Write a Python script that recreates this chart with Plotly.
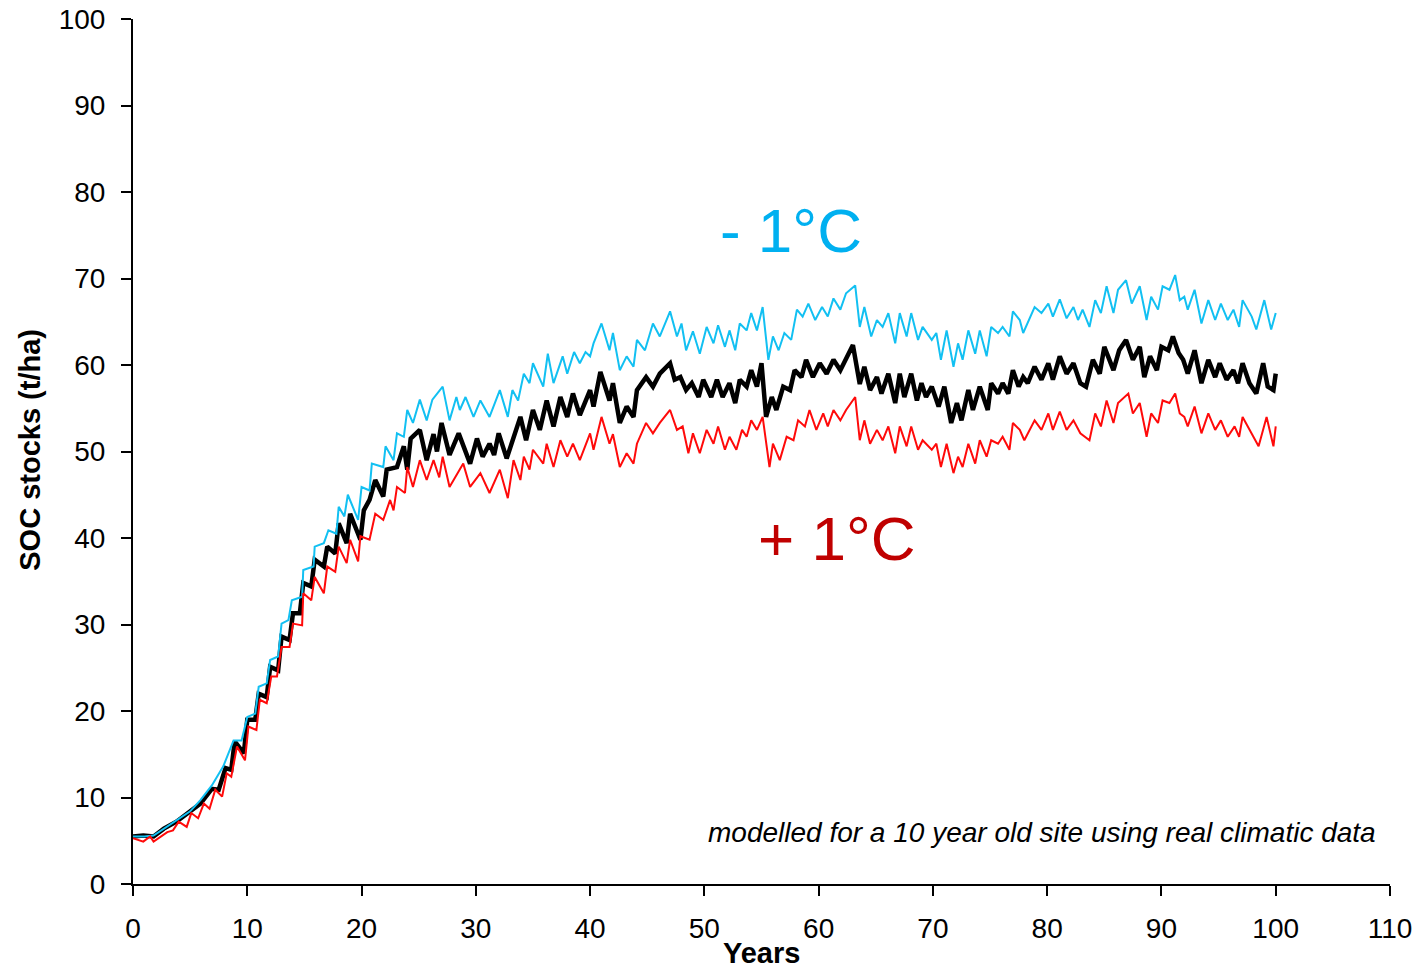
import plotly.graph_objects as go

# ---------------- data ----------------
base_years = [0, 0.9, 1.8, 2.7, 3.8, 4.8, 5.9, 6.9, 7.5, 8.1, 8.6, 8.9, 9.7, 10.0, 10.7, 11.0, 11.7, 12.0, 12.7,
              13.0, 13.7, 14.0, 14.6, 14.9, 15.6, 15.9, 16.7, 17.0, 17.7, 18.0, 18.7, 19.0, 19.9, 20.2, 20.7,
              21.2, 21.9, 22.2, 23.1, 23.7, 24.0, 24.3, 25.1, 25.7, 26.3, 26.6, 27.0, 27.7, 28.5, 29.5, 30.1,
              30.6, 31.2, 31.6, 32.0, 32.7, 33.9, 34.4, 35.0, 35.6, 36.2, 36.8, 37.4, 38.0, 38.5, 39.1, 40.0,
              40.3, 40.9, 41.7, 42.0, 42.6, 43.2, 43.8, 44.1, 44.9, 45.5, 46.1, 47.0, 47.4, 47.9, 48.4, 48.9,
              49.5, 49.9, 50.6, 51.1, 51.6, 52.2, 52.7, 53.1, 53.7, 54.1, 54.6, 55.0, 55.4, 55.9, 56.3, 56.9,
              57.5, 57.9, 58.5, 58.9, 59.5, 60.1, 60.7, 61.3, 61.9, 62.4, 63.0, 63.6, 64.0, 64.5, 65.1, 65.5,
              66.1, 66.7, 67.1, 67.5, 68.1, 68.6, 69.0, 69.4, 69.9, 70.5, 71.0, 71.6, 72.1, 72.5, 73.1, 73.5,
              74.1, 74.8, 75.1, 75.7, 76.1, 76.6, 77.0, 77.5, 77.9, 78.3, 78.9, 79.5, 80.1, 80.5, 81.1, 81.7,
              82.3, 82.9, 83.4, 84.0, 84.6, 85.0, 85.8, 86.3, 86.9, 87.5, 88.1, 88.5, 89.0, 89.6, 90.0, 90.6,
              91.0, 91.5, 91.9, 92.3, 92.9, 93.5, 94.1, 94.7, 95.1, 95.7, 96.3, 96.7, 97.1, 97.7, 98.3, 98.9,
              99.3, 99.8, 100.0]
base_soc = [5.5, 5.6, 5.5, 6.4, 7.2, 8.2, 9.3, 11.0, 10.9, 13.4, 13.2, 16.5, 15.1, 19.0, 19.0, 22.0, 21.6, 25.1, 24.7,
            28.6, 28.2, 31.3, 31.3, 34.8, 34.4, 37.5, 36.7, 39.0, 38.2, 41.7, 39.4, 42.8, 39.8, 43.2, 44.4,
            46.7, 44.8, 47.9, 48.2, 50.6, 47.9, 51.5, 52.5, 49.0, 52.0, 50.0, 53.3, 49.6, 52.1, 48.6, 51.5,
            49.4, 50.9, 49.6, 52.1, 49.2, 54.0, 51.3, 54.8, 52.5, 55.9, 52.9, 56.3, 54.0, 56.7, 54.2, 57.1,
            55.2, 59.2, 55.9, 57.9, 53.3, 55.2, 54.0, 57.1, 58.6, 57.5, 59.0, 60.2, 58.3, 58.6, 57.1, 57.9,
            56.3, 58.3, 56.3, 58.3, 56.3, 57.9, 55.6, 58.3, 57.5, 59.4, 57.5, 60.2, 54.0, 56.3, 54.8, 57.5,
            57.1, 59.4, 58.6, 60.6, 58.6, 60.2, 59.0, 60.6, 59.4, 60.6, 62.3, 57.8, 59.8, 57.1, 58.6, 56.7,
            59.0, 55.6, 59.0, 56.3, 59.0, 55.9, 57.9, 56.3, 57.5, 55.2, 57.5, 53.3, 55.6, 53.6, 57.1, 54.8,
            57.5, 54.8, 57.9, 56.7, 57.9, 56.7, 59.4, 57.5, 58.6, 57.9, 59.8, 58.3, 60.2, 58.3, 61.0, 59.0,
            60.2, 57.9, 57.5, 60.6, 59.0, 62.1, 59.4, 61.7, 62.9, 60.6, 62.1, 58.6, 61.0, 59.4, 62.1, 61.7,
            63.3, 61.4, 60.6, 59.0, 61.7, 57.9, 60.6, 58.6, 60.2, 58.3, 59.4, 57.9, 60.2, 57.9, 56.7, 60.2,
            57.5, 57.1, 59.0]

cool_years = [0, 1.0, 1.8, 2.7, 3.8, 5.0, 5.9, 6.9, 7.9, 8.8, 9.5, 10.0, 10.7, 11.0, 11.7, 12.0, 12.7, 13.0, 13.6,
              13.9, 14.8, 14.9, 15.8, 15.9, 16.7, 17.1, 17.8, 18.0, 18.5, 18.8, 19.7, 20.0, 20.7, 20.9, 21.9,
              22.1, 22.8, 23.1, 23.7, 24.0, 24.5, 25.1, 25.7, 26.2, 27.1, 27.7, 28.3, 28.6, 29.1, 29.8, 30.4,
              31.2, 32.1, 32.8, 33.2, 33.7, 34.2, 34.7, 35.0, 35.9, 36.3, 36.8, 37.6, 38.0, 38.6, 39.1, 39.6,
              40.0, 40.3, 41.0, 41.7, 42.0, 42.6, 43.2, 43.8, 44.1, 44.8, 45.5, 46.1, 47.0, 47.6, 48.0, 48.4,
              49.0, 49.6, 50.2, 50.8, 51.2, 51.8, 52.2, 52.7, 53.1, 53.7, 54.1, 54.6, 55.1, 55.6, 56.0, 56.5,
              57.0, 57.6, 58.1, 58.6, 59.1, 59.7, 60.3, 60.8, 61.3, 61.9, 62.4, 63.2, 63.6, 64.0, 64.6, 65.1,
              65.6, 66.1, 66.7, 67.1, 67.7, 68.1, 68.7, 69.1, 69.9, 70.3, 70.7, 71.2, 71.8, 72.2, 72.6, 73.1,
              73.7, 74.1, 74.7, 75.1, 75.7, 76.1, 76.7, 77.0, 77.6, 77.9, 78.9, 79.5, 80.1, 80.5, 81.1, 81.7,
              82.3, 82.7, 83.1, 83.7, 84.2, 84.7, 85.2, 85.8, 86.2, 86.9, 87.4, 88.1, 88.7, 89.1, 89.7, 90.1,
              90.7, 91.2, 91.6, 92.0, 92.3, 92.9, 93.5, 94.1, 94.7, 95.2, 95.8, 96.3, 96.8, 97.1, 97.9, 98.3,
              99.0, 99.6, 100.0]
cool_soc = [5.5, 5.5, 5.6, 6.4, 7.4, 8.4, 9.7, 11.4, 13.6, 16.6, 16.6, 19.3, 19.7, 22.8, 23.2, 25.9, 26.3, 30.1, 30.5,
            32.8, 33.2, 36.3, 36.7, 39.0, 39.4, 40.9, 40.5, 43.6, 42.5, 45.0, 42.1, 45.9, 45.5, 48.6, 48.2,
            50.6, 49.0, 52.1, 51.7, 54.8, 53.3, 56.0, 53.6, 56.0, 57.5, 53.6, 56.3, 54.8, 56.3, 54.0, 55.9,
            54.0, 57.1, 54.0, 57.1, 55.9, 59.0, 57.9, 60.2, 57.5, 61.3, 57.9, 61.0, 59.0, 61.5, 60.2, 61.5,
            61.0, 62.5, 64.8, 61.7, 63.7, 59.4, 61.0, 59.8, 62.9, 61.7, 64.8, 63.3, 66.2, 63.3, 64.8, 61.7,
            63.9, 61.3, 64.4, 62.5, 64.6, 62.1, 64.0, 61.7, 64.8, 64.0, 66.0, 64.0, 66.7, 60.6, 63.3, 61.7,
            63.7, 62.9, 66.4, 65.6, 67.1, 65.2, 66.7, 65.6, 67.7, 66.4, 68.3, 69.2, 64.4, 66.7, 63.3, 65.2,
            64.4, 66.0, 62.5, 66.0, 63.3, 66.0, 62.9, 64.4, 62.9, 63.7, 60.6, 64.0, 59.8, 62.5, 60.6, 64.0,
            61.3, 64.0, 61.0, 64.4, 63.7, 64.4, 63.3, 66.2, 65.2, 63.7, 66.7, 66.0, 67.1, 65.6, 67.6, 65.4,
            66.7, 65.2, 66.4, 64.4, 67.5, 66.0, 69.1, 66.0, 68.7, 69.8, 67.1, 69.1, 65.2, 67.9, 66.4, 69.1,
            68.7, 70.4, 67.5, 67.9, 66.4, 68.7, 64.8, 67.5, 65.2, 67.1, 65.2, 66.4, 64.4, 67.5, 65.6, 64.1,
            67.5, 64.1, 66.0]

warm_years = [0, 0.9, 1.5, 1.8, 3.0, 3.5, 4.0, 4.7, 5.1, 5.7, 6.2, 6.7, 7.2, 7.8, 8.2, 8.6, 9.1, 9.8, 10.1, 10.8,
              11.1, 11.7, 12.1, 12.6, 13.0, 13.7, 14.0, 14.8, 14.9, 15.6, 15.9, 16.7, 17.0, 17.7, 18.0, 18.7,
              19.0, 19.7, 19.9, 20.7, 21.2, 21.9, 22.5, 22.8, 23.1, 23.8, 24.0, 24.5, 25.1, 25.7, 26.3, 26.8,
              27.1, 27.7, 28.9, 29.5, 30.4, 31.2, 32.1, 32.8, 33.3, 33.9, 34.2, 34.7, 35.0, 35.9, 36.2, 36.8,
              37.4, 38.0, 38.5, 39.1, 40.0, 40.3, 41.0, 41.7, 42.0, 42.6, 43.2, 43.8, 44.1, 44.9, 45.5, 46.1,
              47.0, 47.6, 48.1, 48.6, 49.0, 49.6, 50.2, 50.8, 51.2, 51.8, 52.2, 52.8, 53.3, 53.7, 54.1, 54.6,
              55.1, 55.7, 56.0, 56.6, 57.2, 57.8, 58.2, 58.8, 59.2, 59.8, 60.4, 60.8, 61.3, 61.9, 62.4, 63.2,
              63.6, 64.0, 64.5, 65.1, 65.6, 66.1, 66.7, 67.1, 67.7, 68.1, 68.7, 69.1, 69.9, 70.3, 70.7, 71.2,
              71.8, 72.2, 72.6, 73.1, 73.7, 74.1, 74.7, 75.1, 75.7, 76.1, 76.7, 77.0, 77.6, 78.0, 78.9, 79.5,
              80.1, 80.5, 81.1, 81.7, 82.3, 82.9, 83.7, 84.2, 84.7, 85.2, 85.8, 86.2, 87.1, 87.5, 88.1, 88.7,
              89.1, 89.7, 90.1, 90.7, 91.2, 91.6, 92.0, 92.3, 92.9, 93.5, 94.1, 94.7, 95.2, 95.8, 96.4, 96.8,
              97.1, 97.9, 98.5, 99.2, 99.8, 100.0]
warm_soc = [5.3, 4.9, 5.5, 4.9, 6.0, 6.2, 7.2, 6.6, 8.2, 7.6, 9.3, 8.7, 10.9, 10.1, 12.8, 12.4, 15.9, 14.3, 18.2, 17.8,
            21.3, 20.9, 24.0, 24.0, 27.4, 27.4, 30.1, 29.9, 33.6, 32.8, 35.5, 33.6, 36.7, 36.1, 39.0, 37.1,
            39.8, 37.3, 40.2, 39.8, 42.8, 42.1, 44.4, 43.2, 45.9, 45.2, 48.2, 45.9, 49.0, 46.7, 49.0, 47.0,
            49.4, 45.9, 48.6, 45.9, 47.5, 45.2, 47.9, 44.6, 49.0, 46.7, 49.4, 47.9, 50.2, 48.6, 50.9, 48.2,
            51.3, 49.4, 50.9, 49.0, 52.1, 50.2, 54.0, 50.9, 52.0, 48.2, 49.8, 48.6, 50.9, 53.3, 52.1, 53.3,
            54.8, 52.5, 52.9, 49.8, 52.1, 49.8, 52.5, 50.9, 52.9, 50.2, 51.7, 50.2, 52.5, 51.7, 53.6, 52.5,
            54.0, 48.2, 50.9, 49.0, 51.7, 51.3, 53.6, 52.9, 54.8, 52.5, 54.4, 52.9, 54.8, 53.6, 54.8, 56.3,
            51.3, 53.6, 50.9, 52.5, 51.3, 52.9, 49.8, 52.9, 50.6, 52.9, 50.2, 51.3, 50.2, 50.9, 48.2, 50.9,
            47.5, 49.4, 48.2, 50.9, 48.6, 51.3, 49.4, 51.3, 50.9, 51.7, 50.2, 53.3, 52.5, 51.3, 53.6, 52.5,
            54.4, 52.5, 54.6, 52.5, 53.6, 52.1, 51.3, 54.4, 52.9, 55.9, 53.3, 55.6, 56.7, 54.4, 55.6, 51.7,
            54.4, 53.3, 55.9, 55.6, 56.7, 54.4, 54.0, 52.9, 55.2, 52.1, 54.4, 52.5, 53.6, 51.7, 52.9, 51.7,
            54.0, 52.1, 50.6, 54.0, 50.6, 52.9]

x_ticks = [0, 10, 20, 30, 40, 50, 60, 70, 80, 90, 100, 110]
y_ticks = [0, 10, 20, 30, 40, 50, 60, 70, 80, 90, 100]

FONT = "Liberation Sans, Arial, sans-serif"

fig = go.Figure()
fig.add_trace(go.Scatter(x=base_years, y=base_soc, mode="lines", name="baseline",
                         line=dict(color="#000000", width=4.5)))
fig.add_trace(go.Scatter(x=cool_years, y=cool_soc, mode="lines", name="- 1°C",
                         line=dict(color="#12C0F2", width=2)))
fig.add_trace(go.Scatter(x=warm_years, y=warm_soc, mode="lines", name="+ 1°C",
                         line=dict(color="#FF0A0A", width=2)))

axis_common = dict(showline=True, linecolor="black", linewidth=2, ticks="outside", ticklen=10,
                   tickwidth=2, tickcolor="black", showgrid=False, zeroline=False, automargin=False,
                   ticklabeloverflow="allow",
                   tickfont=dict(family=FONT, size=28, color="black"))

fig.update_xaxes(range=[0, 110], tickvals=x_ticks, ticktext=[str(v) for v in x_ticks],
                 ticklabelstandoff=8, **axis_common)
fig.update_yaxes(range=[0, 100], tickvals=y_ticks, ticktext=[str(v) for v in y_ticks],
                 ticklabelstandoff=10, **axis_common)

fig.add_annotation(x=57.6, y=75.6, xref="x", yref="y", text="- 1°C", showarrow=False,
                   font=dict(family=FONT, size=62, color="#00B0F0"))
fig.add_annotation(x=61.6, y=40.0, xref="x", yref="y", text="+ 1°C", showarrow=False,
                   font=dict(family=FONT, size=62, color="#C00000"))
fig.add_annotation(x=108.95, y=5.9, xref="x", yref="y", xanchor="right", showarrow=False,
                   text="<i>modelled for a 10 year old site using real climatic data</i>",
                   font=dict(family=FONT, size=28, color="black"))
fig.add_annotation(x=55, y=0, xref="x", yref="y", yshift=-69, showarrow=False,
                   xanchor="center", yanchor="middle",
                   text="<b>Years</b>", font=dict(family=FONT, size=29, color="black"))
fig.add_annotation(x=0, y=50.2, xref="paper", yref="y", xshift=-103, showarrow=False,
                   xanchor="center", yanchor="middle",
                   textangle=-90, text="<b>SOC stocks (t/ha)</b>",
                   font=dict(family=FONT, size=29, color="black"))

fig.update_layout(width=1420, height=971, margin=dict(l=133, r=30, t=19, b=87),
                  paper_bgcolor="white", plot_bgcolor="white", showlegend=False)

# remove the browser's default 8 px body margin so the figure fills the window exactly
fig.write_html("out.html", config={"displayModeBar": False},
               post_script="document.body.style.margin='0';document.body.style.overflow='hidden';")
